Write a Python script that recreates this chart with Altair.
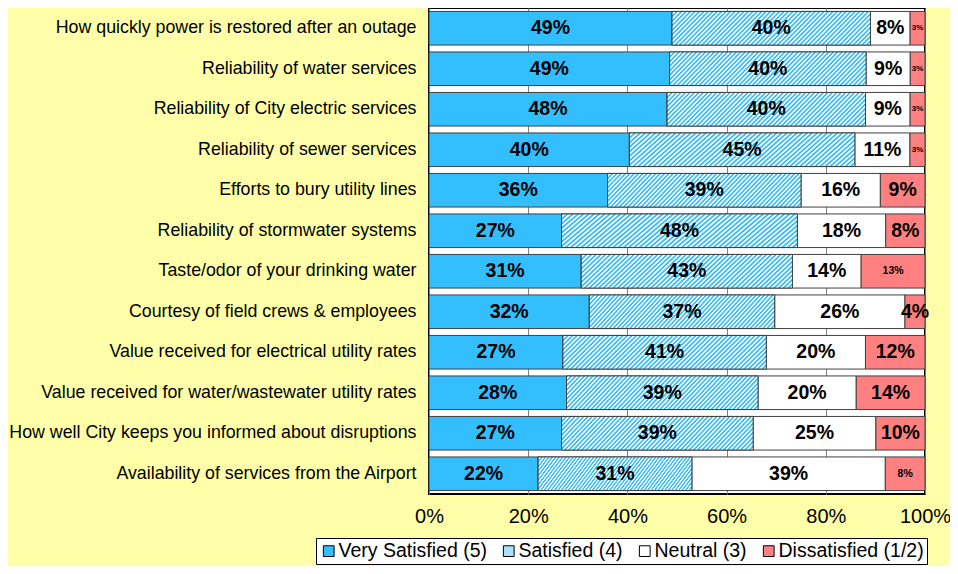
import altair as alt
import pandas as pd

items = [
    "How quickly power is restored after an outage",
    "Reliability of water services",
    "Reliability of City electric services",
    "Reliability of sewer services",
    "Efforts to bury utility lines",
    "Reliability of stormwater systems",
    "Taste/odor of your drinking water",
    "Courtesy of field crews & employees",
    "Value received for electrical utility rates",
    "Value received for water/wastewater utility rates",
    "How well City keeps you informed about disruptions",
    "Availability of services from the Airport",
]
categories = ["Very Satisfied (5)", "Satisfied (4)", "Neutral (3)", "Dissatisfied (1/2)"]
very_satisfied = [49, 49, 48, 40, 36, 27, 31, 32, 27, 28, 27, 22]
satisfied = [40, 40, 40, 45, 39, 48, 43, 37, 41, 39, 39, 31]
neutral = [8, 9, 9, 11, 16, 18, 14, 26, 20, 20, 25, 39]
dissatisfied = [3, 3, 3, 3, 9, 8, 13, 4, 12, 14, 10, 8]
x_ticks = [0, 0.2, 0.4, 0.6, 0.8, 1.0]

# labels drawn in a smaller font (item index, category index) -> font size
small_labels = {(0, 3): 8, (1, 3): 8, (2, 3): 8, (3, 3): 8, (6, 3): 10.5, (11, 3): 10.5}

BLUE = "#33BFFF"
colors = [BLUE, "#A6E2FF", "#FFFFFF", "#FF8080"]

rows = []
series = [very_satisfied, satisfied, neutral, dissatisfied]
for i, it in enumerate(items):
    for c, cat in enumerate(categories):
        v = series[c][i]
        rows.append({
            "item": it, "cat": cat, "order": c, "value": v,
            "label": f"{v}%", "fs": small_labels.get((i, c), 19.5),
        })
df = pd.DataFrame(rows)


def make_hatch(n, x2, y2):
    st = []
    for k in range(n):
        st += [
            {"offset": k / n, "color": BLUE},
            {"offset": (k + 0.3) / n, "color": BLUE},
            {"offset": (k + 0.5) / n, "color": "#FFFFFF"},
            {"offset": (k + 0.8) / n, "color": "#FFFFFF"},
        ]
    st.append({"offset": 1, "color": BLUE})
    return {"gradient": "linear", "x1": 0, "y1": 0, "x2": x2, "y2": y2, "stops": st}


hatch = make_hatch(55, 1.2, 0.2)

FONT = "Liberation Sans"

base = alt.Chart(df).transform_stack(
    stack="value", as_=["x0", "x1"], groupby=["item"],
    sort=[alt.SortField("order")], offset="normalize",
).transform_calculate(mid="(datum.x0 + datum.x1) / 2")

yenc = alt.Y(
    "item:N", sort=items, title=None,
    scale=alt.Scale(paddingInner=0.17, paddingOuter=0.085),
    axis=alt.Axis(labelFontSize=17.8, labelFont=FONT, labelColor="black", labelLimit=0,
                  ticks=False, domain=False, labelPadding=13),
)
xenc = alt.X(
    "x0:Q", title=None, scale=alt.Scale(domain=[0, 1], nice=False),
    axis=alt.Axis(values=x_ticks, format=".0%", labelFontSize=20, labelFont=FONT,
                  labelColor="black", ticks=False, grid=True, gridColor="#808080",
                  domain=False, labelPadding=12, labelFlush=False),
)

bars = base.mark_bar(stroke="#404040", strokeWidth=1).encode(
    y=yenc, x=xenc, x2="x1:Q",
    color=alt.Color(
        "cat:N", scale=alt.Scale(domain=categories, range=colors),
        legend=alt.Legend(
            title=None, orient="none", legendX=-113, legendY=530, direction="horizontal",
            fillColor="white", strokeColor="black", padding=3, labelFontSize=19.5,
            labelFont=FONT, labelColor="black", symbolType="square", symbolSize=115,
            symbolStrokeColor="black", symbolStrokeWidth=1, columnPadding=12, labelOffset=0,
        ),
    ),
    order=alt.Order("order:Q"),
)

hatched = base.transform_filter(alt.datum.cat == "Satisfied (4)").mark_bar(
    fill=hatch, stroke="#404040", strokeWidth=1
).encode(y=alt.Y("item:N", sort=items), x="x0:Q", x2="x1:Q")

text = base.mark_text(font=FONT, fontWeight="bold", color="black").encode(
    y=alt.Y("item:N", sort=items), x="mid:Q", text="label:N",
    size=alt.Size("fs:Q", scale=None, legend=None),
)

chart = alt.layer(bars, hatched, text).properties(
    width=496, height=486,
    background="#FFFFAA",
    autosize=alt.AutoSizeParams(type="none"),
    padding={"left": 421, "top": 0, "right": 25, "bottom": 72},
).configure_view(fill="white", stroke="black", strokeWidth=2)

chart.save("out.html", embed_options={"renderer": "svg", "actions": False})
